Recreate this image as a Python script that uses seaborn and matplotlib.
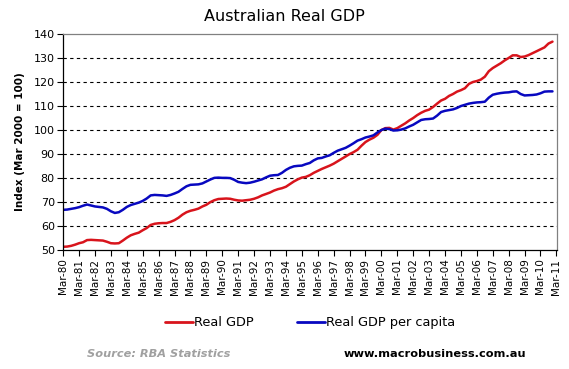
import matplotlib
matplotlib.use("Agg")
import matplotlib.pyplot as plt
import seaborn as sns
import pandas as pd

sns.set_style("white")
plt.rcParams['font.family'] = ['DejaVu Sans']
plt.rcParams['text.color'] = 'black'
plt.rcParams['axes.labelcolor'] = 'black'
plt.rcParams['xtick.color'] = 'black'
plt.rcParams['ytick.color'] = 'black'

# Quarterly index values, Mar-80 .. Dec-10 (Mar 2000 = 100)
real_gdp = [
    51.4, 51.5, 51.8, 52.3,   52.9, 53.3, 54.2, 54.3,   54.2, 54.1, 54.0, 53.5,
    52.9, 52.8, 52.9, 54.0,   55.2, 56.2, 56.8, 57.3,   58.3, 59.2, 60.5, 61.0,
    61.2, 61.3, 61.3, 61.8,   62.5, 63.5, 64.8, 65.8,   66.4, 66.8, 67.3, 68.2,
    68.9, 70.0, 70.8, 71.3,   71.4, 71.5, 71.4, 71.0,   70.7, 70.6, 70.8, 71.0,
    71.4, 72.0, 72.8, 73.4,   74.0, 74.8, 75.4, 75.8,   76.4, 77.5, 78.6, 79.5,
    80.2, 80.5, 81.2, 82.2,   83.0, 83.8, 84.5, 85.2,   86.0, 87.0, 88.0, 89.0,
    90.0, 90.8, 91.8, 93.5,   95.0, 96.0, 96.8, 98.0,   100.0, 100.8, 100.9, 100.2,
    100.8, 101.8, 102.8, 104.0,   105.0, 106.2, 107.2, 108.0,   108.5, 109.6, 111.0, 112.3,
    113.0, 114.2, 115.0, 116.0,   116.6, 117.4, 119.2, 120.0,   120.4, 121.0, 122.2, 124.5,
    125.8, 126.8, 127.8, 129.0,   130.0, 131.1, 131.1, 130.4,   130.6, 131.2, 132.0, 132.8,
    133.6, 134.4, 136.0, 136.8,
]
gdp_per_capita = [
    66.8, 66.9, 67.2, 67.5,   67.9, 68.5, 69.0, 68.6,   68.2, 68.0, 67.8, 67.2,
    66.2, 65.5, 65.8, 66.8,   68.0, 68.8, 69.3, 69.8,   70.5, 71.5, 72.8, 73.0,
    72.9, 72.8, 72.6, 73.0,   73.6, 74.3, 75.5, 76.6,   77.2, 77.3, 77.4, 77.8,
    78.6, 79.4, 80.1, 80.2,   80.1, 80.1, 80.0, 79.3,   78.4, 78.1, 77.9, 78.1,
    78.5, 79.0, 79.5, 80.3,   81.0, 81.2, 81.3, 82.2,   83.4, 84.3, 84.9, 85.1,
    85.2, 85.8, 86.3, 87.4,   88.2, 88.4, 89.0, 89.5,   90.5, 91.4, 92.0, 92.6,
    93.5, 94.5, 95.6, 96.2,   96.9, 97.3, 97.8, 99.0,   100.0, 100.6, 100.4, 99.8,
    99.9, 100.2, 100.7, 101.5,   102.2, 103.2, 104.2, 104.5,   104.6, 104.8, 106.0, 107.5,
    108.0, 108.3, 108.6, 109.2,   110.0, 110.5, 111.0, 111.3,   111.5, 111.6, 111.8, 113.5,
    114.7, 115.1, 115.4, 115.6,   115.7, 116.0, 116.1, 115.0,   114.4, 114.5, 114.6, 114.8,
    115.3, 116.0, 116.1, 116.1,
]
quarters = pd.date_range("1980-03-31", periods=len(real_gdp), freq="QE")

tick_years = list(range(1980, 2012))
tick_labels = [f"Mar-{y % 100:02d}" for y in tick_years]
y_ticks = [50, 60, 70, 80, 90, 100, 110, 120, 130, 140]

df = pd.DataFrame({"Quarter": quarters, "Real GDP": real_gdp,
                   "Real GDP per capita": gdp_per_capita})
df_long = df.melt(id_vars="Quarter", var_name="Series", value_name="Index")

palette = {"Real GDP": "#D8141C", "Real GDP per capita": "#0808C0"}

fig = plt.figure(figsize=(5.69, 3.69), dpi=100)
ax = fig.add_axes([0.111, 0.322, 0.868, 0.586])
sns.lineplot(data=df_long, x="Quarter", y="Index", hue="Series",
             palette=palette, linewidth=1.8, ax=ax, legend=False)

ax.set_ylim(50, 140)
ax.set_yticks(y_ticks)
ax.set_yticklabels([str(v) for v in y_ticks], fontsize=8)
ax.set_xlim(pd.Timestamp("1980-03-31"), pd.Timestamp("2011-04-15"))
tick_dates = [pd.Timestamp(f"{y}-03-31") for y in tick_years]
ax.set_xticks(tick_dates)
ax.set_xticklabels(tick_labels, rotation=90, fontsize=7.5)
ax.tick_params(axis="both", direction="out", length=4, width=0.8,
               color="black", pad=2)
ax.tick_params(axis="x", bottom=True)
ax.tick_params(axis="y", left=True)

for v in y_ticks[1:-1]:
    ax.axhline(v, color="black", linestyle=(0, (3, 3)), linewidth=0.8, zorder=0)

ax.spines["left"].set_color("black")
ax.spines["bottom"].set_color("black")
ax.spines["top"].set_color("#808080")
ax.spines["right"].set_color("#808080")
for s in ax.spines.values():
    s.set_linewidth(0.9)

ax.set_xlabel("")
ax.set_ylabel("Index (Mar 2000 = 100)", fontsize=7.5, fontweight="bold", labelpad=6)
fig.suptitle("Australian Real GDP", x=0.5, y=0.975, fontsize=11.5)

handles = [plt.Line2D([], [], color=palette[k], linewidth=2) for k in palette]
fig.legend(handles, list(palette), loc="center", bbox_to_anchor=(0.545, 0.125),
           ncol=2, frameon=False, fontsize=9.3, handlelength=2.2,
           handletextpad=0.1, columnspacing=3.3)

fig.text(0.153, 0.032, "Source: RBA Statistics", fontsize=8.2, style="italic",
         fontweight="bold", color="#A0A0A0")
fig.text(0.603, 0.032, "www.macrobusiness.com.au", fontsize=8.2,
         fontweight="bold", color="black")

fig.savefig("out.png", dpi=100)
